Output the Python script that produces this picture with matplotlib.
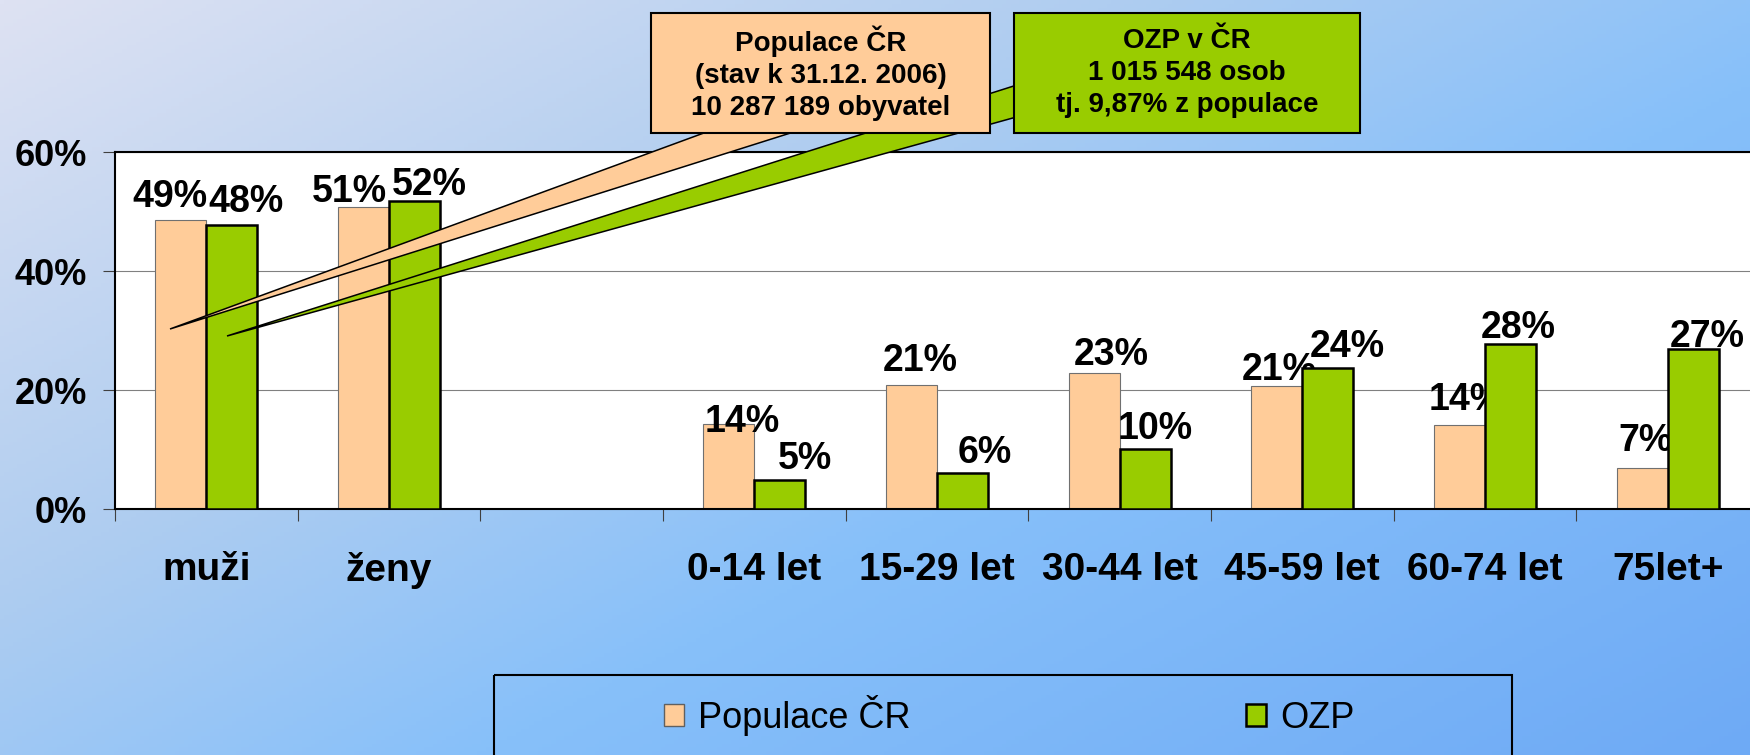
import numpy as np
import matplotlib.pyplot as plt
from matplotlib.patches import Polygon, Rectangle, Patch

plt.rcParams['font.family'] = ['Liberation Sans', 'DejaVu Sans']

# Data
categories = ['muži', 'ženy', '', '0-14 let', '15-29 let', '30-44 let',
              '45-59 let', '60-74 let', '75let+']
populace = [48.7, 50.8, np.nan, 14.3, 20.9, 22.9, 20.7, 14.1, 7.0]
ozp = [47.7, 51.8, np.nan, 4.9, 6.1, 10.2, 23.8, 27.8, 26.9]

# label nudges in pixels (dx from bar centre, dy of baseline above bar top)
pop_dx = [-11, -14, 0, 13, 9, 17, 2, 7, 3]
pop_dy = [13, 5, 0, -8, 14, 8, 6, 15, 17]
ozp_dx = [14, 15, 0, 25, 22, 10, 19, 8, 14]
ozp_dy = [13, 6, 0, 11, 10, 10, 11, 6, 2]

peach = '#FFCC99'
green = '#99CC00'
W, H = 1750, 755

fig = plt.figure(figsize=(W / 100, H / 100), dpi=100)

# gradient background
bg = fig.add_axes([0, 0, 1, 1], zorder=0)
yy, xx = np.mgrid[0:1:200j, 0:1:400j]
t = 0.55 * xx + 0.45 * yy
stops = [0, 0.35, 0.6, 1]
cols = np.array([[222, 226, 243], [175, 205, 240], [135, 192, 250], [110, 170, 245]]) / 255
grad = np.stack([np.interp(t, stops, cols[:, k]) for k in range(3)], axis=-1)
bg.imshow(grad, aspect='auto', extent=[0, 1, 1, 0])
bg.axis('off')

# main chart
ax = fig.add_axes([115 / W, 1 - 509.3 / H, (1759 - 115) / W, (509.3 - 152.3) / H], zorder=1)
ax.set_facecolor('white')
x = np.arange(len(categories))
bw = 0.28
ax.bar(x - bw / 2, populace, bw, color=peach, edgecolor='#707070', linewidth=0.8, zorder=2)
ax.bar(x + bw / 2, ozp, bw, color=green, edgecolor='black', linewidth=1.8, zorder=4)

# populace labels sit under the green bars, as in the original
for i, v in enumerate(populace):
    if np.isnan(v):
        continue
    ax.annotate(f'{v:.0f}%', (x[i] - bw / 2, v), xytext=(pop_dx[i], pop_dy[i]),
                textcoords='offset pixels', ha='center', va='baseline',
                fontsize=27, fontweight='bold', zorder=3)
for i, v in enumerate(ozp):
    if np.isnan(v):
        continue
    ax.annotate(f'{v:.0f}%', (x[i] + bw / 2, v), xytext=(ozp_dx[i], ozp_dy[i]),
                textcoords='offset pixels', ha='center', va='baseline',
                fontsize=27, fontweight='bold', zorder=5)

ax.set_xlim(-0.5, len(categories) - 0.5)
ax.set_ylim(0, 60)
ax.set_yticks([0, 20, 40, 60])
ax.yaxis.set_major_formatter(lambda v, p: f'{v:.0f}%')
ax.set_axisbelow(True)
ax.yaxis.grid(True, color='#808080', linewidth=0.8)
ax.tick_params(axis='y', length=8.6, width=0.8, color='#404040', pad=11.5, labelsize=26)
for lbl in ax.get_yticklabels():
    lbl.set_fontweight('bold')

ax.set_xticks(x, categories, fontsize=28, fontweight='bold')
ax.set_xticks(np.arange(-0.5, len(categories), 1), minor=True)
ax.tick_params(axis='x', which='major', length=0, pad=31)
ax.tick_params(axis='x', which='minor', length=8.6, width=0.8, color='#404040')

for s in ['top', 'left', 'bottom']:
    ax.spines[s].set_color('black')
    ax.spines[s].set_linewidth(1.5)
ax.spines['right'].set_visible(False)

# callouts (figure pixel coordinates)
ov = fig.add_axes([0, 0, 1, 1], zorder=2)
ov.set_xlim(0, W)
ov.set_ylim(H, 0)
ov.axis('off')
ov.patch.set_alpha(0)

ov.add_patch(Polygon([(227, 336), (1020, 84), (1020, 116)], closed=True,
                     facecolor=green, edgecolor='black', linewidth=1.1))
ov.add_patch(Polygon([(170, 329), (712, 130), (800, 130)], closed=True,
                     facecolor=peach, edgecolor='black', linewidth=1.1))
ov.add_patch(Rectangle((651, 13), 339, 120, facecolor=peach, edgecolor='black', linewidth=1.5))
ov.add_patch(Rectangle((1014, 13), 346, 120, facecolor=green, edgecolor='black', linewidth=1.5))
ov.text(820.5, 73, 'Populace ČR\n(stav k 31.12. 2006)\n10 287 189 obyvatel',
        ha='center', va='center', fontsize=20, fontweight='bold', linespacing=1.3)
ov.text(1187, 73, 'OZP v ČR\n1 015 548 osob\ntj. 9,87% z populace',
        ha='center', va='center', fontsize=20, fontweight='bold', linespacing=1.3)

# legend
ov.add_patch(Rectangle((494, 675), 1018, 100, fill=False, edgecolor='black', linewidth=1.5))
handles = [Patch(facecolor=peach, edgecolor='#606060', linewidth=1),
           Patch(facecolor=green, edgecolor='black', linewidth=1.8)]
fig.legend(handles, ['Populace ČR', 'OZP'], loc='center left',
           bbox_to_anchor=(664 / W, 1 - 715 / H), ncol=2, frameon=False,
           fontsize=26, handlelength=0.55, handleheight=0.55, handletextpad=0.39,
           columnspacing=9.3, borderpad=0, borderaxespad=0)

fig.savefig('out.png', dpi=100)
